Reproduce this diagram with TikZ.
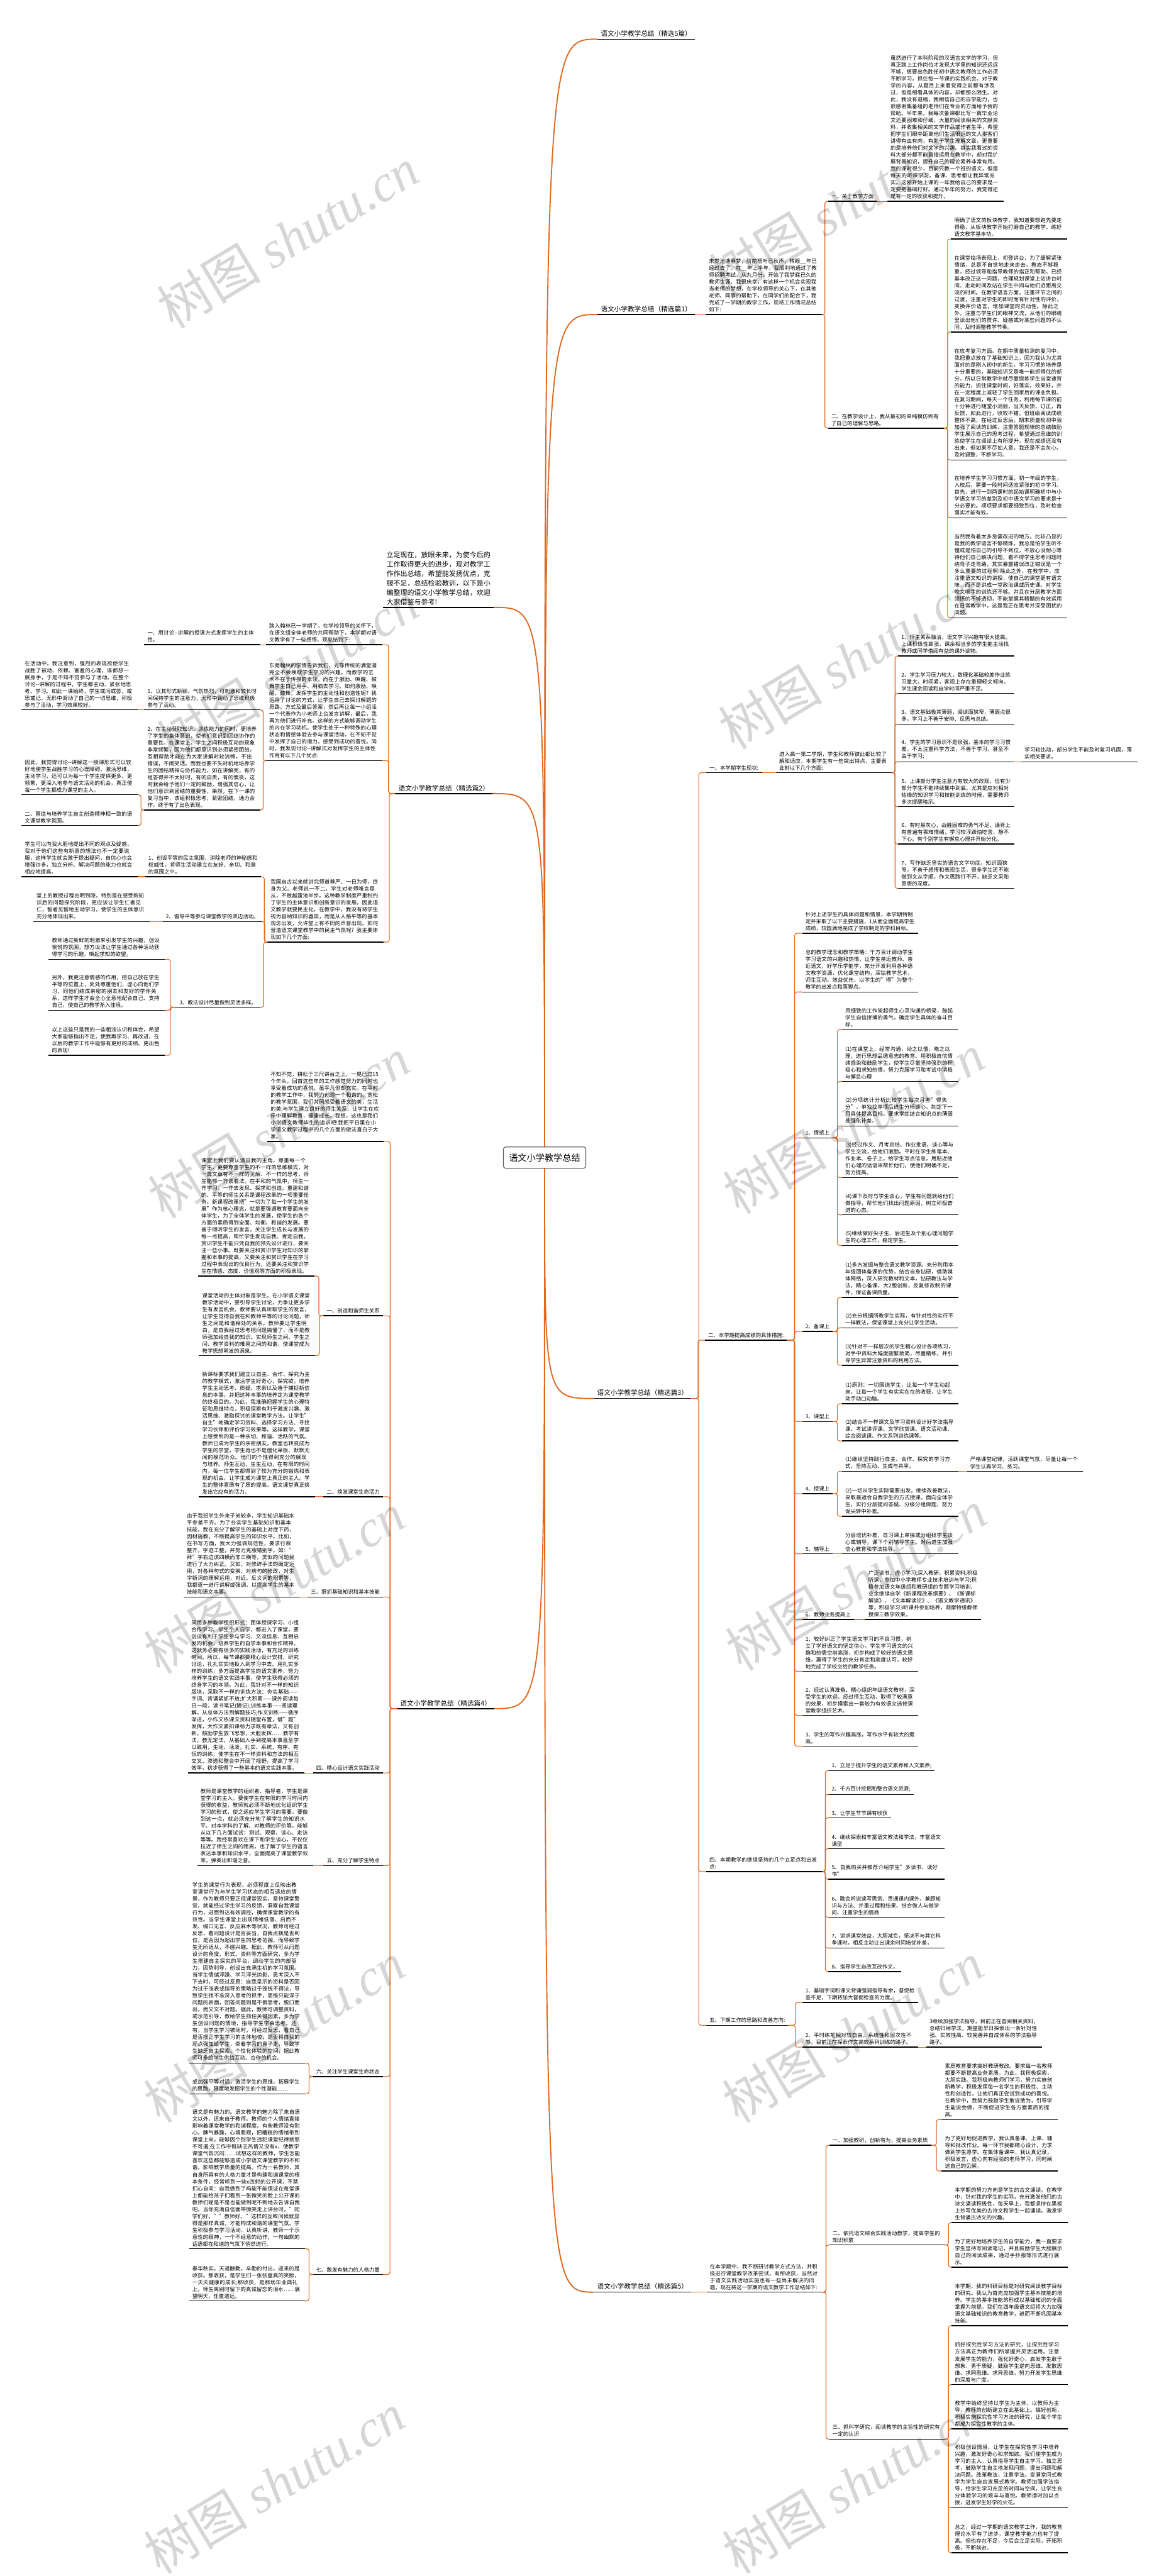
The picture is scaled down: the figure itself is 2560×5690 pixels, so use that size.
\documentclass[tikz,border=0pt]{standalone}
\usepackage{fontspec}
\setmainfont{Noto Sans CJK SC}
\newfontfamily\wmlatin{Liberation Serif}
\usetikzlibrary{calc}
\XeTeXlinebreaklocale "zh"
\XeTeXlinebreakskip=0pt plus 1pt
\definecolor{lnk}{RGB}{224,104,32}

\begin{document}
\begin{tikzpicture}[x=1pt,y=-1pt,
  txt/.style={font=\fontsize{11.7}{15.3}\selectfont,align=left,inner xsep=7pt,inner ysep=5pt,
    append after command={(\tikzlastnode.south west) edge[draw=black,line width=2pt] (\tikzlastnode.south east)}},
  rn/.style={txt,anchor=south west},
  ln/.style={txt,anchor=south east},
  w/.style={text width=242pt},
  lab/.style={font=\fontsize{14.8}{19}\selectfont},
  lk/.style={draw=lnk,line width=1.6pt,rounded corners=5pt},
  rk/.style={to path={-| ($(\tikztostart)!.5!(\tikztotarget)$) |- (\tikztotarget)}},
  rootlk/.style={draw=lnk,line width=2.6pt},
  wm/.style={anchor=base west,rotate=31,text=black,text opacity=0.16,font=\fontsize{115}{115}\selectfont}]
  \fill[white] (0,0) rectangle (2560,5690);
  \useasboundingbox (0,0) rectangle (2560,5690);

  \node[draw=black!65,line width=1.5pt,rounded corners=5pt,fill=white,minimum width=182pt,minimum height=47pt,
    font=\fontsize{19.7}{22}\selectfont] (root) at (1203,2557) {语文小学教学总结};

  % 精选5篇 / 篇1
  \node[rn,lab] (t0) at (1320,86.5) {语文小学教学总结（精选5篇）};
  \node[rn,lab] (t1) at (1320,694.7) {语文小学教学总结（精选篇1）};
  \node[rn,w] (p1) at (1559,694.7) {未觉池塘春梦，阶前梧叶已秋声，转眼\_\_年已经过去了。在\_\_年上半年，我顺利地通过了教师招聘考试，从九月份，开始了我梦寐已久的教师生涯。我很庆幸，有这样一个机会实现我当老师的梦想，在学校领导的关心下，在其他老师、同事的帮助下，在同学们的配合下，我完成了一学期的教学工作，现将工作情况总结如下:};
  \node[rn] (a1) at (1829,444.7) {一、关于教学方面};
  \node[rn,w] (a1c) at (1960,444.7) {虽然进行了本科阶段的汉语言文学的学习，但真正踏上工作岗位才发现大学里的知识还远远不够，想要出色胜任初中语文教师的工作必须不断学习，抓住每一节课的实践机会。对于教学的内容，从题目上来看觉得之前都有涉及过，但是细看具体的内容，却都那么陌生。对此，我没有退缩，我相信自己的自学能力，也很感谢集备组的老师们在专业的方面给予我的帮助。半年来，我每次备课都比写一篇毕业论文还要困难和仔细，大量的阅读相关的文献资料，并收集相关的文学作品或作者生平，希望把学生们眼中距离他们生活很远的文人墨客们讲得有血有肉，有助于学生理解文章，更重要的是培养他们对文学的兴趣。其实我看过的资料大部分都不能直接运用在教学中，却对我扩展背景知识，提升自己的理论素养非常有用。我的课时很少，目前只教一个班的语文，但是每天的听课学习，备课、思考都让我异常充实。这刚开始上课的一年我给自己的要求是一定要把基础打好。通过半年的努力，我觉得还是有一定的收获和提升。};
  \node[rn,w] (a2) at (1829,945.8) {二、在教学设计上，我从最初的单纯模仿到有了自己的理解与思路。};
  \node[rn,w] (b1) at (2101,528) {明确了语文的板块教学，我知道要想跑先要走得稳，从板块教学开始打磨自己的教学，练好语文教学基本功。};
  \node[rn,w] (b2) at (2101,733.3) {在课堂临场表现上，初登讲台，为了缓解紧张情绪，总是不自觉地走来走去，教态不够稳重，经过领导和指导教师的指正和帮助，已经基本改正这一问题，合理规划课堂上站讲台时间、走动时间及站在学生中间与他们近距离交流的时间。在教学语言方面，注重环节之间的过渡，注重对学生的即时而有针对性的评价，变换评价语言，增加课堂的灵动性。除此之外，注重与学生们的眼神交流，从他们的眼睛里读出他们的赞许、疑惑或对某些问题的不认同，及时调整教学节奏。};
  \node[rn,w] (b3) at (2101,1016) {在应考复习方面。在期中质量检测的复习中，我把重点放在了基础知识上，因为我认为尤其面对的是刚入初中的新生，学习习惯的培养是十分重要的，基础知识又是唯一能抓得住的部分，所以日常教学中就尽量锻炼学生当堂速背的能力，抓住课堂时间，好落实，效果好，并在一定程度上减轻了学生回家后的课业负担。在复习期间，每天一个任务，利用每节课的前十分钟进行随堂小测验，当天反馈，订正，再反馈，如此进行，收效不错。但班级阅读成绩整体不高，在经过反思后，期末质量检测中我加强了阅读的训练，注重答题规律的总结鼓励学生展示自己的思考过程，希望通过思维的训练使学生在阅读上有所提升，现在成绩还没有出来，但如果不尽如人意，我还是不会灰心，及时调整，不断学习。};
  \node[rn,w] (b4) at (2101,1143.7) {在培养学生学习习惯方面。初一年级的学生，入校后，需要一段时间适应紧张的初中学习。首先，进行一到两课时的起始课明确初中与小学语文学习的差别及初中语文学习的要求是十分必要的。项项要求都要细致到位，及时检查落实才能有效。};
  \node[rn,w] (b5) at (2101,1364.6) {当然我有着太多急需改进的地方。比较凸显的是我的教学语言不够精炼。我总是怕学生听不懂或是怕自己的引导不到位，不放心没耐心等待他们自己解决问题，看不得学生思考问题时绕弯子走弯路，其实暴露错误改正错误是一个多么重要的过程啊!除此之外，在教学中，应注重语文知识的讲授，使自己的课堂更有语文味，而不是讲成一堂政治课或历史课。对学生咬文嚼字的训练还不够。并且在分层教学方面领悟的不够透彻，不能掌握其精髓的有效运用在日常教学中，这是我正在思考并深受困扰的问题。};

  % 篇2
  \node[ln,font=\fontsize{15.3}{20.7}\selectfont,text width=230pt] (ti) at (1091,1341.7) {立足现在，放眼未来，为使今后的工作取得更大的进步，现对教学工作作出总结，希望能发扬优点，克服不足，总结检验教训，以下是小编整理的语文小学教学总结，欢迎大家借鉴与参考!};
  \node[ln,lab] (t2) at (1088,1753) {语文小学教学总结（精选篇2）};
  \node[ln,w] (c1) at (844,1424) {踏入翰林已一学期了，在学校领导的关怀下，在语文组全体老师的共同帮助下，本学期对语文教学有了一些感悟，现总结如下:};
  \node[ln,w] (c1a) at (575,1424) {一、用讨论-{}-讲解的授课方式发挥学生的主体性。};
  \node[ln,w] (c2) at (844,1680) {东莞翰林的学情告诉我们，光靠传统的满堂灌完全不会唤取学生学习的兴趣。而教学的艺术不在于传授的本领，而在于激励、唤醒、鼓舞学生自己用手、用脑去学习。如何激励、唤醒、鼓舞，发挥学生的主动性和创造性呢? 我运用了讨论的方式，让学生自己去探讨解题的思路、方式及最后答案，然后再让每一小组派一个代表作为小老师上台发言讲解，最后，我再为他们进行补充。这样的方式能够调动学生的内在学习动机，使学生处于一种特殊的心理状态和情感体验去参与课堂活动，在不知不觉中发挥了自己的潜力，感受到成功的喜悦。同时，我发现讨论-{}-讲解式对发挥学生的主体性作用有以下几个优点:};
  \node[ln,w] (c2a) at (575,1568) {1、以其形式新颖、气氛热烈，可刺激和较长时间保持学生的注意力，无形中调动了思维积极参与了活动。};
  \node[ln,w] (c2a1) at (304,1568) {在活动中，我注意到，强烈的表现欲使学生战胜了被动、依赖、害羞的心理，谁都想一展身手，于是不知不觉参与了活动。在整个讨论-{}-讲解的过程中，学生都主动、紧张地思考、学习。如此一课始终，学生或问或答，或思或记，无形中调动了自己的一切思维，积极参与了活动，学习效果较好。};
  \node[ln,w] (c2b) at (575,1789) {2、在主动获取知识、训练能力的同时，更培养了学生的集体意识，使他们意识到团结协作的重要性。在课堂上，学生之间积极互动的现象非常频繁，因为他们都意识到必须紧密团结，互相帮助才能在为大家讲解时较流畅，不出错误，不闹笑话。而我也要不失时机地培养学生的团结精神与协作能力，如在讲解完，有的组答得并不太好时，有的自责，有的懊丧，这时我会给予他们一定的鼓励，增强其信心，让他们意识到团结的重要性，果然，在下一课的复习当中，该组积极思考，紧密团结，通力合作，终于有了出色表现。};
  \node[ln,w] (c2b1) at (304,1755.4) {因此，我觉得讨论-{}-讲解这一授课形式可以较好地使学生战胜学习的心理障碍，激活思维，主动学习，还可以为每一个学生提供更多、更频繁、更深入地参与语文活动的机会，真正使每一个学生都成为课堂的主人。};
  \node[ln,w] (c2b2) at (304,1823.6) {二、营造与培养学生自主创造精神相一致的语文课堂教学氛围。};
  \node[ln,w] (c3) at (847,2081) {我国自古以来就讲究师道尊严、一日为师，终身为父。老师说一不二，学生对老师唯言是从，不敢越雷池半步。这种教学制度严重制约了学生的主体意识和创新意识的发展，因此语文教学就要民主化。在教学中，我没有将学生视为容纳知识的器皿，而是从人格平等的基本观念出发，允许堂上有不同的声音出现。如何营造语文课堂教学中的民主气氛呢? 我主要体现如下几个方面:};
  \node[ln,w] (c3a) at (577,1936.5) {1、创设平等的民主氛围，消除老师的神秘感和权威性，将师生活动建立在友好、亲切、和谐的氛围之中。};
  \node[ln,w] (c3a1) at (304,1936.5) {学生可以向我大胆地提出不同的观点及疑惑，我对于他们这些有新意的想法也不一定要说服，这样学生就会敢于提出疑问，自信心也会增强许多，独立分析、解决问题的能力也就会相应地提高。};
  \node[ln] (c3b) at (579,2035.6) {2、倡导平等参与课堂教学的双边活动。};
  \node[ln,w] (c3b1) at (330,2035.6) {堂上的教授过程由明到隐，特别是在感受新知识后的问题探究阶段，更应该让学生仁者见仁，智者见智地主动学习，使学生的主体意识充分地体现出来。};
  \node[ln] (c3c) at (574,2225) {3、教法设计尽量做到灵活多样。};
  \node[ln,w] (c3c1) at (364,2119) {教师通过新鲜的刺激来引发学生的兴趣，创设愉悦的氛围，想方设法让学生通过各种活动获得学习的乐趣，唤起求知的欲望。};
  \node[ln,w] (c3c2) at (364,2231.7) {另外，我更注意情感的作用，把自己放在学生平等的位置上，处处尊重他们，虚心向他们学习，同他们结成亲密的朋友和友好的学伴关系，这样学生才会全心全意地配合自己、支持自己，使自己的教学渐入佳境。};
  \node[ln,w] (c3c3) at (364,2331) {以上这些只是我的一些粗浅认识和体会，希望大家能够指出不足，使我再学习、再改进，在以后的教学工作中能够有更好的成绩、更出色的表现!};

  % 篇3
  \node[rn,lab] (t3) at (1312,3089) {语文小学教学总结（精选篇3）};
  \node[rn] (d1) at (1560,1706.8) {一、本学期学生现状:};
  \node[rn,w] (d1c) at (1714,1706.8) {进入高一第二学期，学生和教师彼此都比较了解和适应，本期学生有一些突出特点，主要表此刻以下几个方面:};
  \node[rn,w] (e1) at (1984,1448.8) {1、师生关系融洽，语文学习兴趣有很大提高。上课积极性高涨，课余相当多的学生能主动找教师或同学借阅有益的课外读物。};
  \node[rn,w] (e2) at (1984,1531.6) {2、学生学习压力较大，数理化基础较差作业练习量大，时间紧，客观上存在重理轻文倾向，学生课余阅读和自学时间严重不足。};
  \node[rn,w] (e3) at (1984,1599.6) {3、语文基础极其薄弱，阅读面狭窄，薄弱点很多，学习上不善于安排、反思与总结。};
  \node[rn,w] (e4) at (1984,1682.7) {4、学生的学习意识不是很强，基本的学习习惯差，不太注重科学方法，不善于学习，甚至不会于学习;};
  \node[rn,w] (e4c) at (2256,1682.7) {学习较比动，部分学生不能及时复习巩固，落实相关要求。};
  \node[rn,w] (e5) at (1984,1781.9) {5、上课部分学生注意力有较大的改观，但有少部分学生不能持续集中到底，尤其是应对相对枯燥的知识学习和技能训练的时候，需要教师多次提醒暗示。};
  \node[rn,w] (e6) at (1984,1864.5) {6、有时易灰心，战胜困难的勇气不足，诵背上有普遍有畏难情绪，学习较浮躁怕吃苦，静不下心。有个别学生有懈怠心理并开始分化。};
  \node[rn,w] (e7) at (1984,1962.4) {7、写作缺乏坚实的语言文字功底，知识面狭窄，不善于感悟和表现生活，很多学生还不能做到文从字顺，作文思路打不开，缺乏文采和思想的深度。};
  \node[rn] (d2) at (1557,2960.2) {二、本学期提高成绩的具体措施:};
  \node[rn,w] (f0) at (1772,2061.5) {针对上述学生的具体问题和情景，本学期特制定并采取了以下主要措施，1从而全面提高学生成绩，较圆满地完成了学校制定的学科目标。};
  \node[rn,w] (f00) at (1772,2191) {总的教学理念和教学策略：千方百计调动学生学习语文的兴趣和热情，让学生亲近教师、亲近语文，好学乐学能学，充分开发利用各种语文教学资源，优化课堂结构，深钻教学艺术，师生互动，效益优先，以学生的"得"为整个教学的出发点和落脚点。};
  \node[rn] (f1) at (1772,2513.4) {1、情感上};
  \node[rn,w] (g1) at (1860,2273.7) {用细致的工作架起师生心灵沟通的桥梁，鼓起学生自信拼搏的勇气，确定学生具体的奋斗目标。};
  \node[rn,w] (g2) at (1860,2388.7) {(1)在课堂上，经常沟通，动之以情，晓之以理，进行思想品德意志的教育、用积极自信情绪感染和鼓励学生，使学生尽量坚持强烈的积极心和求知热情，努力克服学习和考试中消极与懈怠心理};
  \node[rn,w] (g3) at (1860,2487) {(2)分项统计分析比较学生每次月考"得失分"，单独找单项后进生分析谈心，制定下一月具体提高目标，要求学生结合知识点的薄弱处强化补差。};
  \node[rn,w] (g4) at (1860,2601) {(3)经过作文、月考总结、作业批语、谈心等与学生交流，给他们激励。平时在学生练笔本、作业本、卷子上，给学生写点信息，用贴近他们心理的话语来帮忙他们，使他们明确不足，努力提高。};
  \node[rn,w] (g5) at (1860,2683.5) {(4)课下及时与学生谈心，学生有问题就给他们做指导，帮忙他们找出问题原因，树立积极奋进的心态。};
  \node[rn,w] (g6) at (1860,2751) {(5)继续做好尖子生、后进生及个别心理问题学生的心理工作，稳定学生。};
  \node[rn] (f2) at (1772,2941) {2、备课上};
  \node[rn,w] (h1) at (1860,2865.8) {(1)多方发掘与整合语文教学资源。充分利用本年级团体备课的优势，结合自身钻研，借助媒体网络，深入研究教材和文本，钻研教法与学法，精心备课，大2胆创新，反复修改制的课件，保证备课质量。};
  \node[rn,w] (h2) at (1860,2932.8) {(2)充分根据所教学生实际，有针对性的实行不一样教法，保证课堂上充分让学生活动。};
  \node[rn,w] (h3) at (1860,3015.7) {(3)针对不一样层次的学生精心设计各项练习，对手中资料大幅度删繁就简，尽量精练，并引导学生异常注意资料的利用方法。};
  \node[rn] (f3) at (1772,3140) {3、课型上};
  \node[rn,w] (i1) at (1860,3100.5) {(1)原则：一切围绕学生，让每一个学生动起来，让每一个学生有实实在在的收获，让学生动手动口动脑。};
  \node[rn,w] (i2) at (1860,3182.8) {(2)结合不一样课文及学习资料设计好学法指导课、考试讲评课、文学欣赏课、语文活动课、综合阅读课、作文系列训练课等。};
  \node[rn] (f4) at (1772,3299.5) {4、授课上};
  \node[rn,w] (j1) at (1860,3249.8) {(1)继续坚持践行自主、合作、探究的学习方式，坚持互动、生成与共享。};
  \node[rn,w] (j1c) at (2136,3249.8) {严格课堂纪律，活跃课堂气氛，尽量让每一个学生认真学习、练习。};
  \node[rn,w] (j2) at (1860,3349.3) {(2)一切从学生实际需要出发，继续改善教法，采取最适合自我学生的方式授课。面向全体学生，实行分层提问答疑、分级分组做题，努力促尖转中补差。};
  \node[rn] (f5) at (1772,3432.2) {5、辅导上};
  \node[rn,w] (k1) at (1860,3432.2) {分层培优补差，自习课上单独或分组找学生谈心或辅导，课下个别辅导学生。对后进生加强信心教育和学法指导。};
  \node[rn] (f6) at (1772,3577) {6、教师业务提高上};
  \node[rn,w] (l1) at (1911,3577) {广泛读书，虚心学习;深入教研，积累资料;积极听课，参加中小学教师专业技术培训与学习;积极参加语文年级组和教研组的专题学习培训，业余继续自学《新课程改革纲要》、《新课标解读》、《文本解读论》、《语文教学通讯》等，积极学习3听课并参加培养，观摩特级教师授课三教学效果。};
  \node[rn,w] (f7) at (1772,3691.8) {1、较好纠正了学生语文学习的不良习惯，树立了学好语文的坚定信心，学生学习语文的兴趣和热情空前高涨，初步构成了较好的语文思维，赢得了学生的充分肯定和高度认可，较好地完成了学校交给的教学任务。};
  \node[rn,w] (f8) at (1772,3789) {2、经过认真准备、精心组织年级语文教材，深受学生的欢迎。经过师生互动，取得了较满意的效果，初步摸索出一套较为有效语文选修课堂教学组织艺术。};
  \node[rn,w] (f9) at (1772,3857) {3、学生的写作兴趣高涨，写作水平有较大的提高。};
  \node[rn,w] (d4) at (1560,4134) {四、本期教学的继续坚持的几个立足点和出发点:};
  \node[rn] (m1) at (1830,3911) {1、立足于提升学生的语文素养和人文素养;};
  \node[rn] (m2) at (1830,3963.6) {2、千方百计挖掘和整合语文资源;};
  \node[rn] (m3) at (1830,4015.4) {3、让学生节节课有收获};
  \node[rn,w] (m4) at (1830,4083.3) {4、继续探索和丰富语文教法和学法，丰富语文课型};
  \node[rn,w] (m5) at (1830,4151) {5、自我购买并推荐介绍学生"多读书、读好书"};
  \node[rn,w] (m6) at (1830,4235) {6、融会听说读写思赏、贯通课内课外、兼顾知识与方法、并重过程和结果、结合做人与做学问、注重学生的情商};
  \node[rn,w] (m7) at (1830,4303) {7、讲求课堂效益，大胆减负，坚决不与其它科争课时，相反主动让出课余时间培优补差，};
  \node[rn] (m8) at (1830,4354.7) {8、指导学生自改互改作文，};
  \node[rn] (d5) at (1560,4473.5) {五、下期工作的思路和改善方向:};
  \node[rn,w] (n1) at (1772,4423) {1、基础字词和课文背诵强调指导有余，督促检查不足，下期将加大督促检查的力度。};
  \node[rn,w] (n2) at (1772,4521.9) {2、平时练笔相对较自由，系统性和层次性不够，目前正在探索作文高效系列训练的路子。};
  \node[rn,w] (n2c) at (2046,4521.9) {3继续加强学法指导，目前正在查阅相关资料，总结归纳学法，期望能早日探索出一条针对性强、实效性高、较完善并自成体系的学法指导路子。};

  % 篇4
  \node[ln,lab] (t4) at (1092,3774) {语文小学教学总结（精选篇4）};
  \node[ln,w] (r0) at (847,2521.4) {不知不觉，耕耘于三尺讲台之上，一晃已过15个年头，回首这些年的工作感觉努力的同时也享受着成功的喜悦，虽平凡但却充实。在平时的教学工作中，我努力创造一个和谐的、宽松的教学氛围，我们共同感受着语文的美，生活的美;与学生建立良好的师生关系，让学生在欢乐中理解教育，健康成长。我想，这也是我们小学语文教师毕生的追求吧!我把平日里在小学语文教学过程中的几个方面的做法直白于大家。};
  \node[ln] (r1) at (846,2906.3) {一、创造和谐师生关系};
  \node[ln,w] (r1a) at (694,2818.5) {课堂上我们要认清自我的主角，尊重每一个学生，更要尊重学生的不一样的思维模式，对一篇文章有不一样的见解、不一样的思考，师生能够一齐谈看法。在平和的气氛中，师生一齐学习，一齐去发现、探求和创造。重建和谐的、平等的师生关系是课程改革的一项重要任务。新课程改革把"一切为了每一个学生的发展"作为核心理念，就是要强调教育要面向全体学生，为了全体学生的发展，使学生的各个方面的素质得到全面、均衡、和谐的发展。要善于倾听学生的发言，关注学生成长与发展的每一点提高，帮忙学生发现自我、肯定自我。赏识学生不能只凭自我的预先设计进行，要关注一些小事。既要关注和赏识学生对知识的掌握和本事的提高，又要关注和赏识学生在学习过程中表现出的优良行为，还要关注和赏识学生在情感、态度、价值观等方面的积极表现。};
  \node[ln,w] (r1b) at (696,2994.4) {课堂活动的主体对象是学生。在小学语文课堂教学活动中，要引导学生讨论，力争让更多学生有发言机会。教师要认真听取学生的发言，让学生觉得自我在和教师平等的讨论问题，师生之间是和谐相处的关系。教师要让学生明白，是自我经过思考把问题搞懂了，而不是教师强加给自我的知识。实现师生之间、学生之间、教学资料的难易之间的和谐，使课堂成为教学思想萌发的源泉。};
  \node[ln] (r2) at (846,3306) {二、焕发课堂生命活力};
  \node[ln,w] (r2a) at (696,3306) {新课标要求我们建立以自主、合作、探究为主的教学模式，激活学生好奇心，探究欲，培养学生主动思考、质疑、求索以及善于捕捉新信息的本事，并把这种本事的培养定为课堂教学的终极目的。为此，我准确把握学生的心理特征和思维特点，积极探索有利于激发兴趣、激活思维、激励探讨的课堂教学方法。让学生"自主"地确定学习资料、选择学习方法、寻找学习伙伴和评价学习效果等。这样教学，课堂上感受到的是一种亲切、和谐、活跃的气氛。教师已成为学生的亲密朋友，教室也转变成为学生的学堂，学生再也不是僵化呆板、默默无闻的模范听众。他们的个性得到充分的展现与培养。师生互动，生生互动，在有限的时间内，每一位学生都得到了较为充分的锻炼和表现的机会，让学生成为课堂上真正的主人。学生的整体素质有了质的提高，语文课堂真正焕发出它应有的活力。};
  \node[ln] (r3) at (846,3527.5) {三、狠抓基础知识和基本技能};
  \node[ln,w] (r3a) at (662,3527.5) {由于我班学生外来子弟较多，学生知识基础水平参差不齐。为了夯实学生基础知识和基本技能，我在充分了解学生的基础上对症下药，因材施教，不断提高学生的知识水平。比如，在书写方面，我大力强调规范性，要求行款整齐，字迹工整，并努力克服错别字，如："拜"字右边该四横而非三横等，类似的问题我进行了大力纠正。又如，对修辞手法的确定运用，对各种句式的变换，对病句的修改，对生字新词的理解运用，对近、反义词的积累等，我都逐一进行讲解或强调，以提高学生的基本技能和语文本事。};
  \node[ln] (r4) at (846,3916.2) {四、精心设计语文实践活动};
  \node[ln,w] (r4a) at (672,3916.2) {采用多种教学组织形式：团体授课学习、小组合作学习、学生个人自学，都进入了课堂，要创设有利于学生参与学习、交流信息、互相启发的机会，培养学生的自学本事和合作精神。这就务必要有很多的实践活动，有充足的训练时间。所以，每节课都要精心设计安排、研究讨论，扎扎实实地投入到学习中去。用扎实多样的训练，多方面提高学生的语文素养，努力培养学生的语文实践本事，使学生获得必须的终身学习的本领。为此，我针对不一样的知识版块，采取不一样的训练方法：夯实基础——字词、背诵紧抓不放;扩大积累——课外阅读每日一段，读书笔记(摘记);训练本事——阅读理解，从总体方法到解题技巧;作文训练——循序渐进，小作文依课文资料随堂布置，借"题"发挥，大作文紧扣课标力求既有章法，又有创新，鼓励学生放飞思想，大胆发挥……教学有法，教无定法，从基础入手到提高本事直至学以致用，生动、活泼，扎实、系统，有序、有恒的训练，使学生在不一样资料和方法的相互交叉、渗透和整合中开阔了视野，提高了学习效率，初步获得了一些基本的语文实践本事。};
  \node[ln] (r5) at (846,4120.6) {五、充分了解学生特点};
  \node[ln,w] (r5a) at (692,4120.6) {教师是课堂教学的组织者、指导者，学生是课堂学习的主人。要使学生在有限的学习时间内获得的收益，教师就必须不断地优化组织学生学习的形式，使之适应学生学习的需要。要做到这一点，就必须充分地了解学生的知识水平、对本学科的了解、对教师的评价等。能够从以下几方面试试：测试、观察、谈心、走访等等。我经常喜欢在课下和学生谈心，不仅仅拉近了师生之间的距离，也了解了学生的语言表达本事和知识水平，全面提高了课堂教学效率，弹奏出和谐之音。};
  \node[ln] (r6) at (846,4587) {六、关注学生课堂生命状态};
  \node[ln,w] (r6a) at (674,4557) {学生的课堂行为表现，必须程度上反映出教室课堂行为与学生学习状态的相互适应的情景，作为教师只要正视课堂现实，坚持课堂警觉，就能经过学生学习的反馈，洞察自我课堂行为，进而到达有效调控，确保课堂教学的有效性。当学生课堂上出现情绪低落、启而不发、缄口无言、反应麻木等状况，教师可经过反思，看问题设计是否妥当，自我点拨是否到位，是否因为超出学生的思考范围，而导致学生无所适从，不感兴趣。据此，教师可从问题设计的角度、形式、资料等方面研究，多为学生搭建自主探究的平台，调动学生的内部驱力，因势利导，创设出充满生机的学习氛围。当学生情绪浮躁、学习浮光掠影、思考深入不下去时，可经过反思：自我呈示的资料是否因为过于浅表或指导的策略过于笼统不得法，导致学生找不准深入思考的抓手，思维只能浮于问题的表面，回答问题则是不假思考，脱口而出，而又文不对题。据此，教师可调整资料，或示范引导，教给学生抓住关键因素，多为学生创设问题的情境，指导学生学会思考。还有，当学生学习被动时，可经过反思，看自己是否摆正学生学习的主体地位，是否将自我的观点强加给学生，牵着学习的鼻子走，导致学生缺乏自主探索、个性化体验的空间，据此教师可多给学生供给互动、合作的机会。};
  \node[ln,w] (r6b) at (674,4625) {或加强平等对话，激活学生的思维，拓展学生的思路，限度地发掘学生的个性潜能……};
  \node[ln] (r7) at (846,5023.8) {七、散发有魅力的人格力量};
  \node[ln,w] (r7a) at (674,4967) {语文是有魅力的。语文教学的魅力除了来自语文以外，还来自于教师。教师的个人情绪直接影响着课堂教学的和谐程度。有些教师没有耐心，脾气暴躁，心境悲观，把糟糕的情绪带到课堂上来，能够因个别学生违犯课堂纪律就怒不可遏;在工作中既缺乏热情又没有x，使教学课堂气氛沉闷……试想这样的教师，学生怎能喜欢这些都能够造成小学语文课堂教学的不和谐，影响教学质量的提高。作为一名教师，其自身所具有的人格力量才是构建和谐课堂的根本条件。经常听到一些x四射的公开课，不禁扪心自问：自我做到了吗能不能保证在每堂课上都能给孩子们看到一张微笑的脸上公开课的教师们呢是不是也能做到呢不断地去告诉自我吧。当你充满自信面带微笑走上讲台时，"同学们好。""教师好。"这样的互致问候就显得是那样真诚，才能构成和谐的课堂气氛。学生积极参与学习活动，认真听讲，教师一个示意性的眼神，一个不经意的动作，一句幽默的话语都在和谐的气氛下悄然进行。};
  \node[ln,w] (r7b) at (674,5082.5) {春华秋实，天道酬勤。辛勤的付出，迎来的是收获。那收获，是学生们一张张童真的笑脸，一天天健康的成长;那收获，是那场毕业典礼上，师生离别时留下的真诚留恋的泪水……展望明天，任重道远。};

  % 篇5
  \node[rn,lab] (t5) at (1312,5063) {语文小学教学总结（精选篇5）};
  \node[rn,w] (q0) at (1561,5063) {在本学期中，我不断研讨教学方式方法，并积极进行课堂教学改革尝试，有所收获，当然对于语文实践活动实施也有一些尚未解决的问题。现在将这一学期的语文教学工作总结如下:};
  \node[rn] (q1) at (1832,4738.6) {一、加强教研，创新有为，提高业务素质};
  \node[rn,w] (q1a) at (2080,4681.8) {素质教育要求搞好教研教改。要求每一名教师都要不断提高业务素质。为此，我积极探索，大胆实践。我积极向教师们学习，努力实施创新教学，积极发挥每一名学生的积极性、主动性和创造性，让他们真正尝试到成功的喜悦。在教学中，我努力鼓励学生敢说敢为，引导学生能说会做，不断促进学生各方面素质的提高。};
  \node[rn,w] (q1b) at (2080,4795.4) {为了更好地促进教学，我认真备课、上课、辅导和批改作业。每一环节我都精心设计，力求做到学生愿学。在集体备课中，我认真记录，积极发言，虚心向有经验的老师学习，同时阐述自己的见解。};
  \node[rn,w] (q2) at (1832,4958.8) {二、依托语文综合实践活动教学，提高学生的知识积累};
  \node[rn,w] (q2a) at (2102,4909.5) {本学期的努力方向是学生的古文诵读。在教学中，针对我的学生的实际，充分激发他们的古诗文诵读积极性，每天早上，我都坚持在黑板上抄写优美的古诗文和学生一起诵读。激发学生背诵古诗文的兴趣。};
  \node[rn,w] (q2b) at (2102,5008) {为了更好地培养学生的自学能力，我一直要求学生坚持写阅读笔记，并且鼓励学生大胆展示自己的阅读成果，通过手抄报等形式进行展示。};
  \node[rn,w] (q3) at (1832,5387.5) {三、抓科学研究，阅读教学的主旨性的研究有一定的认识};
  \node[rn,w] (q3a) at (2102,5137) {本学期，我的科研目标是对研究阅读教学目标的研究。我认为首先应加强学生基本技能的培养。学生的基本技能的形成以基础知识的全面掌握为前提。我们在四年级语文组将大力加强语文基础知识的教育教学，进而不断巩固基本技能。};
  \node[rn,w] (q3b) at (2102,5267) {抓好探究性学习方法的研究，让探究性学习方法真正为教师们所掌握并灵活运用。注意发展学生的能力，强化好奇心，启发学生敢于想象，勇于质疑，鼓励学生逆向思维、发散思维、求同思维、求异思维，努力开发学生思维的深度与广度。};
  \node[rn,w] (q3c) at (2102,5364.6) {教学中始终坚持以学生为主体，以教师为主导，教师的创新建立在此基础上。搞好创新，积极实施探究性学习方法的研究，让每个学生都成为探究性教学的主体。};
  \node[rn,w] (q3d) at (2102,5539.3) {积极创设情境，让学生在探究性学习中培养兴趣，激发好奇心和求知欲。我们使学生成为学习的主人。认真指导学生自主学习、独立思考，鼓励学生自主地发现问题，提出问题和解决问题。改革教法，注重学法。变满堂问式教学为学生自由发展式教学。教师加强学法指导，给学生学习充足的时间与空间，让学生充分体验学习的艰辛与喜悦。教师适时加以点拨，迸发学生好学的火花。};
  \node[rn,w] (q3e) at (2102,5638.6) {总之，经过一学期的语文教学工作，我的教育理论水平有了进步，课堂教学能力也有了提高。但也存在不足，今后会立足实际，开拓积极，不断前进。};

  % 根节点连线
  \foreach \n in {t0,t1} \draw[rootlk] (root.north) .. controls (root.north |- \n.south west) .. (\n.south west);
  \foreach \n in {ti,t2} \draw[rootlk] (root.north) .. controls (root.north |- \n.south east) .. (\n.south east);
  \foreach \n in {t3,t5} \draw[rootlk] (root.south) .. controls (root.south |- \n.south west) .. (\n.south west);
  \draw[rootlk] (root.south) .. controls (root.south |- t4.south east) .. (t4.south east);

  % 篇1
  \draw[lk] (t1.south east) -- (p1.south west);
  \foreach \n in {a1,a2} \draw[lk] (p1.south east) to[rk] (\n.south west);
  \draw[lk] (a1.south east) -- (a1c.south west);
  \foreach \n in {b1,b2,b3,b4,b5} \draw[lk] (a2.south east) to[rk] (\n.south west);
  % 篇2
  \foreach \n in {c1,c2,c3} \draw[lk] (t2.south west) to[rk] (\n.south east);
  \draw[lk] (c1.south west) -- (c1a.south east);
  \foreach \n in {c2a,c2b} \draw[lk] (c2.south west) to[rk] (\n.south east);
  \draw[lk] (c2a.south west) -- (c2a1.south east);
  \foreach \n in {c2b1,c2b2} \draw[lk] (c2b.south west) to[rk] (\n.south east);
  \foreach \n in {c3a,c3b,c3c} \draw[lk] (c3.south west) to[rk] (\n.south east);
  \draw[lk] (c3a.south west) -- (c3a1.south east);
  \draw[lk] (c3b.south west) -- (c3b1.south east);
  \foreach \n in {c3c1,c3c2,c3c3} \draw[lk] (c3c.south west) to[rk] (\n.south east);
  % 篇3
  \foreach \n in {d1,d2,d4,d5} \draw[lk] (t3.south east) to[rk] (\n.south west);
  \draw[lk] (d1.south east) -- (d1c.south west);
  \foreach \n in {1,...,7} \draw[lk] (d1c.south east) to[rk] (e\n.south west);
  \draw[lk] (e4.south east) -- (e4c.south west);
  \foreach \n in {f0,f00,f1,f2,f3,f4,f5,f6,f7,f8,f9} \draw[lk] (d2.south east) to[rk] (\n.south west);
  \foreach \n in {1,...,6} \draw[lk] (f1.south east) to[rk] (g\n.south west);
  \foreach \n in {h1,h2,h3} \draw[lk] (f2.south east) to[rk] (\n.south west);
  \foreach \n in {i1,i2} \draw[lk] (f3.south east) to[rk] (\n.south west);
  \foreach \n in {j1,j2} \draw[lk] (f4.south east) to[rk] (\n.south west);
  \draw[lk] (j1.south east) -- (j1c.south west);
  \draw[lk] (f5.south east) -- (k1.south west);
  \draw[lk] (f6.south east) -- (l1.south west);
  \foreach \n in {1,...,8} \draw[lk] (d4.south east) to[rk] (m\n.south west);
  \foreach \n in {n1,n2} \draw[lk] (d5.south east) to[rk] (\n.south west);
  \draw[lk] (n2.south east) -- (n2c.south west);
  % 篇4
  \foreach \n in {r0,r1,r2,r3,r4,r5,r6,r7} \draw[lk] (t4.south west) to[rk] (\n.south east);
  \foreach \n in {r1a,r1b} \draw[lk] (r1.south west) to[rk] (\n.south east);
  \draw[lk] (r2.south west) -- (r2a.south east);
  \draw[lk] (r3.south west) -- (r3a.south east);
  \draw[lk] (r4.south west) -- (r4a.south east);
  \draw[lk] (r5.south west) -- (r5a.south east);
  \foreach \n in {r6a,r6b} \draw[lk] (r6.south west) to[rk] (\n.south east);
  \foreach \n in {r7a,r7b} \draw[lk] (r7.south west) to[rk] (\n.south east);
  % 篇5
  \draw[lk] (t5.south east) -- (q0.south west);
  \foreach \n in {q1,q2,q3} \draw[lk] (q0.south east) to[rk] (\n.south west);
  \foreach \n in {q1a,q1b} \draw[lk] (q1.south east) to[rk] (\n.south west);
  \foreach \n in {q2a,q2b} \draw[lk] (q2.south east) to[rk] (\n.south west);
  \foreach \n in {q3a,q3b,q3c,q3d,q3e} \draw[lk] (q3.south east) to[rk] (\n.south west);

  % 水印
  \foreach \wx/\wy in {380/730,380/1690,360/2696,350/3702,350/4693,350/5690,
                       1600/660,1620/1660,1630/2687,1635/3695,1628/4694,1628/5690}
    \node[wm] at (\wx,\wy) {树图 {\wmlatin\itshape shutu.cn}};
\end{tikzpicture}
\end{document}
